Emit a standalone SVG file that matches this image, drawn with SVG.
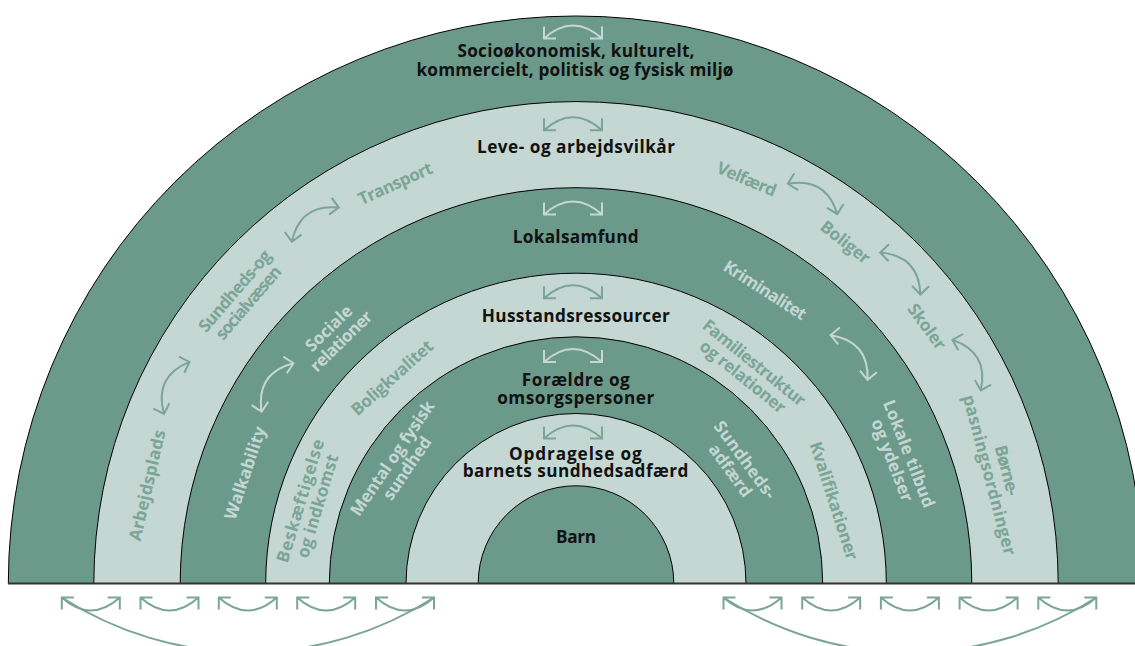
<svg xmlns="http://www.w3.org/2000/svg" xmlns:xlink="http://www.w3.org/1999/xlink" width="1135" height="646" viewBox="0 0 1135 646">
<style>
.rd{fill:#6b998a;stroke:#000;stroke-width:1}
.rlt{fill:#c4d7d2;stroke:#000;stroke-width:1}
.c{font-family:"Open Sans","Liberation Sans",sans-serif;font-weight:700;font-size:17.2px;fill:#111;text-anchor:middle}
.f{font-family:"Open Sans","Liberation Sans",sans-serif;font-weight:700;font-size:17px;text-anchor:middle}
.tg{fill:#7ba596}
.tl{fill:#c4d7d2}
.a{fill:none;stroke-width:2}
.ag{stroke:#7ba596}
.al{stroke:#c4d7d2}
</style>
<defs>
<path id="dbl" d="M-29,-5.5 V6.5 H-17 M-29,6.5 Q0,-19.5 29,6.5 M17,6.5 H29 V-5.5"/>
</defs>
<rect width="1135" height="646" fill="#fff"/>
<g id="ring1">
<path class="rd" d="M8.3,583.5 A567.7,567.7 0 0 1 1143.7,583.5 Z"/>
<text class="c" x="576" y="57.3" textLength="237">Socioøkonomisk, kulturelt,</text>
<text class="c" x="575" y="76.3" textLength="317">kommercielt, politisk og fysisk miljø</text>
</g>
<g id="ring2">
<path class="rlt" d="M93.8,583.5 A482.2,482.2 0 0 1 1058.2,583.5 Z"/>
<text class="c" x="576" y="153.3" textLength="198">Leve- og arbejdsvilkår</text>
</g>
<g id="f-transport"><text class="f tg" transform="translate(395.3,183.4) rotate(-24.3)" y="6" textLength="79.5">Transport</text></g>
<g id="f-sundhedsvaesen" transform="translate(241.9,297.1) rotate(-49.4)"><text class="f tg" y="-3.5" textLength="101.5">Sundheds-og</text><text class="f tg" y="14.5" textLength="91">socialvæsen</text></g>
<g id="f-arbejdsplads"><text class="f tg" transform="translate(147.1,485.3) rotate(-77.1)" y="6" textLength="113">Arbejdsplads</text></g>
<g id="f-velfaerd"><text class="f tg" transform="translate(746.8,179.1) rotate(22.9)" y="6" textLength="63">Velfærd</text></g>
<g id="f-boliger"><text class="f tg" transform="translate(845.6,242.1) rotate(38.3)" y="6" textLength="58">Boliger</text></g>
<g id="f-skoler"><text class="f tg" transform="translate(927,326.6) rotate(53.8)" y="6" textLength="52.4">Skoler</text></g>
<g id="f-boernepasning" transform="translate(997.7,472.8) rotate(75.3)"><text class="f tg" y="-3.5" textLength="51.4">Børne-</text><text class="f tg" y="14.5" textLength="165">pasningsordninger</text></g>
<g id="ring3">
<path class="rd" d="M180.2,583.5 A395.8,395.8 0 0 1 971.8,583.5 Z"/>
<text class="c" x="575.7" y="242.7" textLength="126">Lokalsamfund</text>
</g>
<g id="f-walkability"><text class="f tl" transform="translate(245,472.8) rotate(-71.5)" y="6" textLength="97">Walkability</text></g>
<g id="f-sociale" transform="translate(335.2,335) rotate(-44.1)"><text class="f tl" y="-3.5" textLength="58">Sociale</text><text class="f tl" y="14.5" textLength="79">relationer</text></g>
<g id="f-kriminalitet"><text class="f tl" transform="translate(765.1,290.1) rotate(32.8)" y="6" textLength="95">Kriminalitet</text></g>
<g id="f-lokaletilbud" transform="translate(900.2,457.1) rotate(68.7)"><text class="f tl" y="-3.5" textLength="114">Lokale tilbud</text><text class="f tl" y="14.5" textLength="87">og ydelser</text></g>
<g id="ring4">
<path class="rlt" d="M265.7,583.5 A310.3,310.3 0 0 1 886.3,583.5 Z"/>
<text class="c" x="575.8" y="321.7" textLength="188">Husstandsressourcer</text>
</g>
<g id="f-boligkvalitet"><text class="f tg" transform="translate(392,377.7) rotate(-41.8)" y="6" textLength="103">Boligkvalitet</text></g>
<g id="f-beskaeftigelse" transform="translate(309.3,503.5) rotate(-73.3)"><text class="f tg" y="-3.5" textLength="127.7">Beskæftigelse</text><text class="f tg" y="14.5" textLength="107">og indkomst</text></g>
<g id="f-familiestruktur" transform="translate(748.3,370) rotate(38.9)"><text class="f tg" y="-3.5" textLength="126.7">Familiestruktur</text><text class="f tg" y="14.5" textLength="105">og relationer</text></g>
<g id="f-kvalifikationer"><text class="f tg" transform="translate(834,500.7) rotate(72.2)" y="6" textLength="123">Kvalifikationer</text></g>
<g id="ring5">
<path class="rd" d="M329.3,583.5 A246.7,246.7 0 0 1 822.7,583.5 Z"/>
<text class="c" x="575.8" y="386" textLength="108">Forældre og</text>
<text class="c" x="575.7" y="403.5" textLength="157">omsorgspersoner</text>
</g>
<g id="f-mental" transform="translate(400,463.5) rotate(-55.7)"><text class="f tl" y="-3.5" textLength="135">Mental og fysisk</text><text class="f tl" y="14.5" textLength="72.5">sundhed</text></g>
<g id="f-sundhedsadfaerd" transform="translate(737.4,465.4) rotate(53.8)"><text class="f tl" y="-3.5" textLength="92">Sundheds-</text><text class="f tl" y="14.5" textLength="61">adfærd</text></g>
<g id="ring6">
<path class="rlt" d="M406,583.5 A170,170 0 0 1 746,583.5 Z"/>
<text class="c" x="575.4" y="460" textLength="132.7">Opdragelse og</text>
<text class="c" x="575.5" y="477" textLength="225.7">barnets sundhedsadfærd</text>
</g>
<g id="barn">
<path class="rd" d="M478.2,583.5 A97.8,97.8 0 0 1 673.8,583.5 Z"/>
<text class="c" x="576" y="543.3" textLength="40">Barn</text>
</g>
<line x1="8" y1="583.5" x2="1135" y2="583.5" stroke="#333" stroke-width="2"/>
<g id="connectors">
<use href="#dbl" class="a al" transform="translate(573,32)"/>
<use href="#dbl" class="a ag" transform="translate(573,123.7)"/>
<use href="#dbl" class="a al" transform="translate(573,208)"/>
<use href="#dbl" class="a ag" transform="translate(573,291.7)"/>
<use href="#dbl" class="a al" transform="translate(573,355.5)"/>
<use href="#dbl" class="a ag" transform="translate(573,432)"/>
<use href="#dbl" class="a ag" transform="translate(171,385.1) rotate(-63.9)"/>
<use href="#dbl" class="a ag" transform="translate(311.5,219.4) rotate(-36)"/>
<use href="#dbl" class="a ag" transform="translate(816,193.4) rotate(31.6)"/>
<use href="#dbl" class="a ag" transform="translate(905,269.1) rotate(46.3)"/>
<use href="#dbl" class="a ag" transform="translate(972.3,362) rotate(60.8)"/>
<use href="#dbl" class="a al" transform="translate(272.1,383.9) rotate(-56.7)"/>
<use href="#dbl" class="a al" transform="translate(854.1,353.4) rotate(50.4)"/>
<use href="#dbl" class="a ag" transform="translate(90.8,604) scale(1,-1)"/>
<use href="#dbl" class="a ag" transform="translate(169.5,604) scale(1,-1)"/>
<use href="#dbl" class="a ag" transform="translate(247.8,604) scale(1,-1)"/>
<use href="#dbl" class="a ag" transform="translate(326.2,604) scale(1,-1)"/>
<use href="#dbl" class="a ag" transform="translate(405,604) scale(1,-1)"/>
<use href="#dbl" class="a ag" transform="translate(752.5,604) scale(1,-1)"/>
<use href="#dbl" class="a ag" transform="translate(831.2,604) scale(1,-1)"/>
<use href="#dbl" class="a ag" transform="translate(909.9,604) scale(1,-1)"/>
<use href="#dbl" class="a ag" transform="translate(988.6,604) scale(1,-1)"/>
<use href="#dbl" class="a ag" transform="translate(1067.3,604) scale(1,-1)"/>
<path class="a ag" d="M61.8,597.5 A344,344 0 0 0 434,597.5"/>
<path class="a ag" d="M723.5,597.5 A344,344 0 0 0 1096.3,597.5"/>
</g>
</svg>
